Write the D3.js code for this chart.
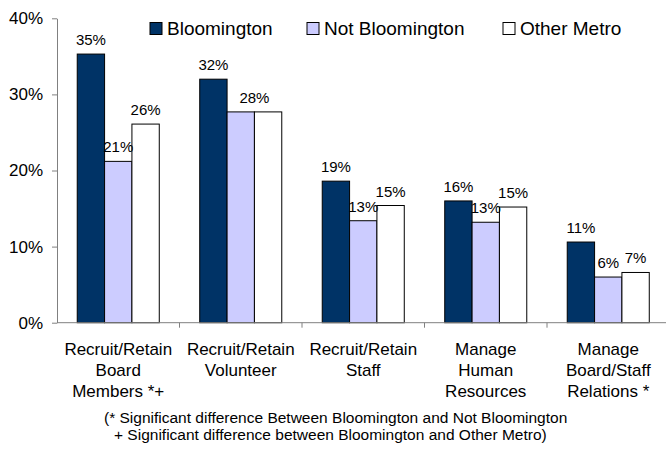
<!DOCTYPE html>
<meta charset="utf-8">
<script src="https://d3js.org/d3.v7.min.js"></script>
<style>
  body { margin: 0; background: #fff; }
  text { font-family: Arial, "Liberation Sans", sans-serif; fill: #000; }
</style>
<div id="my_dataviz"></div>
<script>
  // data (percent)
  var categories = [
    ["Recruit/Retain", "Board", "Members *+"],
    ["Recruit/Retain", "Volunteer"],
    ["Recruit/Retain", "Staff"],
    ["Manage", "Human", "Resources"],
    ["Manage", "Board/Staff", "Relations *"]
  ];
  var series = ["Bloomington", "Not Bloomington", "Other Metro"];
  var bloomington = [35.3, 32.0, 18.6, 16.0, 10.6];
  var notBloomington = [21.2, 27.7, 13.4, 13.2, 6.0];
  var otherMetro = [26.1, 27.7, 15.4, 15.2, 6.6];
  var yTicks = [0, 10, 20, 30, 40];
  var footnote = [
    "(* Significant difference Between Bloomington and Not Bloomington",
    "+ Significant difference between Bloomington and Other Metro)"
  ];

  var colors = ["#003366", "#ccccff", "#ffffff"];
  var values = [bloomington, notBloomington, otherMetro];

  var width = 666, height = 450;
  var margin = { left: 57, right: 669.5, top: 18.3, bottom: 322.7 };

  var svg = d3.select("#my_dataviz")
    .append("svg")
    .attr("width", width)
    .attr("height", height);

  var x0 = d3.scaleBand().domain(d3.range(categories.length)).range([margin.left, margin.right]).padding(0);
  var x1 = d3.scaleBand().domain(series).range([0, x0.bandwidth()]).paddingInner(0).paddingOuter(0.74);
  var y = d3.scaleLinear().domain([0, 40]).range([margin.bottom, margin.top]);

  // y axis
  var yAxis = svg.append("g")
    .attr("transform", "translate(" + margin.left + ",0)")
    .call(d3.axisLeft(y).tickValues(yTicks).tickSize(5).tickSizeOuter(0).tickPadding(9)
      .tickFormat(function (d) { return d + "%"; }));
  yAxis.selectAll("text").style("font-size", "17px").style("font-family", "Arial, 'Liberation Sans', sans-serif").attr("fill", "#000");
  yAxis.selectAll("line, path").attr("stroke", "#808080");

  // bars
  var groups = svg.append("g")
    .selectAll("g")
    .data(categories)
    .enter()
    .append("g")
    .attr("transform", function (d, i) { return "translate(" + x0(i) + ",0)"; });

  groups.selectAll("rect")
    .data(function (d, i) { return series.map(function (s, j) { return { s: s, j: j, v: values[j][i] }; }); })
    .enter()
    .append("rect")
    .attr("x", function (d) { return x1(d.s); })
    .attr("y", function (d) { return y(d.v); })
    .attr("width", x1.bandwidth())
    .attr("height", function (d) { return y(0) - y(d.v); })
    .attr("fill", function (d) { return colors[d.j]; })
    .attr("stroke", "#000")
    .attr("stroke-width", 1);

  // value labels (equal neighbours share one label)
  groups.each(function (c, i) {
    var g = d3.select(this);
    var labs = series.map(function (s, j) {
      return { x: x1(s) + x1.bandwidth() / 2, v: values[j][i], t: Math.round(values[j][i]) + "%" };
    });
    for (var j = labs.length - 1; j > 0; j--) {
      if (labs[j].v === labs[j - 1].v) {
        labs[j].x = (labs[j].x + labs[j - 1].x) / 2;
        labs.splice(j - 1, 1);
      }
    }
    g.selectAll("text.val")
      .data(labs)
      .enter()
      .append("text")
      .attr("class", "val")
      .attr("x", function (d) { return d.x; })
      .attr("y", function (d) { return y(d.v) - 9; })
      .attr("text-anchor", "middle")
      .style("font-size", "15px")
      .text(function (d) { return d.t; });
  });

  // x axis
  svg.append("line")
    .attr("x1", margin.left).attr("x2", margin.right)
    .attr("y1", margin.bottom).attr("y2", margin.bottom)
    .attr("stroke", "#808080");
  svg.append("g")
    .selectAll("line")
    .data(d3.range(1, categories.length + 1))
    .enter()
    .append("line")
    .attr("x1", function (d) { return margin.left + d * x0.bandwidth(); })
    .attr("x2", function (d) { return margin.left + d * x0.bandwidth(); })
    .attr("y1", margin.bottom).attr("y2", margin.bottom + 5)
    .attr("stroke", "#808080");

  // category labels
  groups.append("text")
    .attr("text-anchor", "middle")
    .style("font-size", "17px")
    .selectAll("tspan")
    .data(function (d) { return d; })
    .enter()
    .append("tspan")
    .attr("x", x0.bandwidth() / 2)
    .attr("y", function (d, k) { return 355 + k * 21; })
    .text(function (d) { return d; });

  // legend
  var legendX = [150, 307, 503];
  var legend = svg.append("g")
    .selectAll("g")
    .data(series)
    .enter()
    .append("g")
    .attr("transform", function (d, j) { return "translate(" + legendX[j] + ",22.5)"; });
  legend.append("rect")
    .attr("width", 12).attr("height", 12)
    .attr("fill", function (d, j) { return colors[j]; })
    .attr("stroke", "#000");
  legend.append("text")
    .attr("x", 17).attr("y", 12.5)
    .style("font-size", "19px")
    .text(function (d) { return d; });

  // footnote
  svg.append("g")
    .selectAll("text")
    .data(footnote)
    .enter()
    .append("text")
    .attr("x", function (d, k) { return k ? 114 : 104; })
    .attr("y", function (d, k) { return 423 + k * 17; })
    .style("font-size", "15.5px")
    .text(function (d) { return d; });
</script>
